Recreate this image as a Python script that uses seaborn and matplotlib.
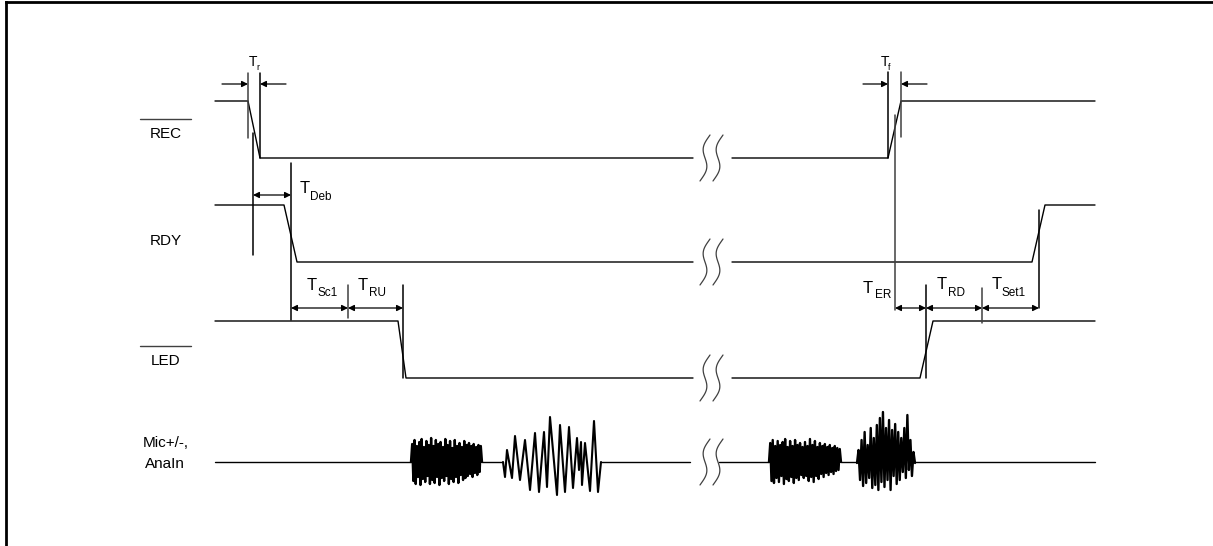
import numpy as np
import matplotlib
matplotlib.use("Agg")
import matplotlib.pyplot as plt
import seaborn as sns

sns.set_theme(style="white")
plt.rcParams["font.family"] = ["Liberation Sans", "DejaVu Sans"]

# ---------------- data ----------------
# digital signals: transition times (x) and logic levels (1 = high, 0 = low), before / after the time break
rec_t_a = [215, 248, 260, 693]
rec_lv_a = [1, 1, 0, 0]
rec_t_b = [732, 888, 901, 1095]
rec_lv_b = [0, 0, 1, 1]

rdy_t_a = [215, 284, 297, 693]
rdy_lv_a = [1, 1, 0, 0]
rdy_t_b = [732, 1032, 1045, 1095]
rdy_lv_b = [0, 0, 1, 1]

led_t_a = [215, 398, 406, 693]
led_lv_a = [1, 1, 0, 0]
led_t_b = [732, 920, 933, 1095]
led_lv_b = [0, 0, 1, 1]

# analog mic signal: quiet baseline segments and bursts (sample values, screen units)
mic_quiet_t = [[215, 411], [482, 503], [601, 690], [719, 769], [841, 857], [915, 1095]]
burst1_span = [411, 482]
burst1_v = [462, 444, 481, 440, 484, 446, 477, 442, 485, 439, 479, 447, 482, 441, 476, 445,
            484, 438, 480, 446, 483, 440, 477, 444, 485, 442, 478, 447, 481, 439, 476, 445,
            484, 441, 479, 448, 482, 440, 477, 446, 483, 443, 475, 447, 480, 441, 478, 445,
            476, 443, 474, 446, 477, 444, 473, 447, 475, 445, 472, 446, 462]
burst2_t = [503, 505, 507, 512, 515, 520, 525, 530, 535, 539, 544, 547, 550, 557, 560, 565,
            569, 573, 577, 579, 581, 582, 585, 590, 594, 598, 601]
burst2_v = [462, 477, 450, 478, 436, 480, 440, 490, 433, 492, 432, 487, 417, 495, 425, 492,
            427, 488, 438, 470, 442, 485, 443, 491, 421, 492, 462]
burst3_span = [769, 841]
burst3_v = [462, 443, 481, 440, 483, 446, 478, 441, 482, 445, 476, 442, 484, 439, 479, 447,
            481, 441, 477, 446, 483, 440, 478, 445, 480, 443, 475, 447, 478, 442, 476, 446,
            481, 439, 477, 445, 482, 441, 476, 447, 479, 443, 474, 446, 477, 444, 473, 447,
            475, 445, 472, 448, 474, 446, 471, 448, 470, 449, 462]
burst4_span = [857, 915]
burst4_v = [463, 450, 480, 440, 486, 432, 483, 445, 478, 428, 488, 438, 485, 425, 490, 418,
            482, 412, 487, 428, 480, 420, 490, 430, 476, 424, 484, 432, 480, 438, 472, 428,
            478, 415, 470, 440, 476, 452, 463]

row_labels = ["REC", "RDY", "LED"]
mic_label = ["Mic+/-,", "AnaIn"]

# timing markers: (main letter, subscript)
timing_names = [("T", "r"), ("T", "f"), ("T", "Deb"), ("T", "Sc1"), ("T", "RU"),
                ("T", "ER"), ("T", "RD"), ("T", "Set1")]

# ---------------- layout ----------------
W, H = 1213, 546
fig = plt.figure(figsize=(W / 100, H / 100), dpi=100)
ax = fig.add_axes([0, 0, 1, 1])
ax.set_xlim(0, W)
ax.set_ylim(H, 0)
ax.axis("off")

lane_low = {"REC": 158, "RDY": 262, "LED": 378}
lane_h = 57
mic_base = 462
LW = 1.0
K = "black"
G = "#404040"


def wave(t, lv, lane):
    y = [lane_low[lane] - v * lane_h for v in lv]
    sns.lineplot(x=t, y=y, sort=False, estimator=None, color=K, lw=LW, ax=ax, legend=False)


wave(rec_t_a, rec_lv_a, "REC")
wave(rec_t_b, rec_lv_b, "REC")
wave(rdy_t_a, rdy_lv_a, "RDY")
wave(rdy_t_b, rdy_lv_b, "RDY")
wave(led_t_a, led_lv_a, "LED")
wave(led_t_b, led_lv_b, "LED")

for seg in mic_quiet_t:
    sns.lineplot(x=seg, y=[mic_base, mic_base], color=K, lw=LW, ax=ax, legend=False)
for span, vals in [(burst1_span, burst1_v), (burst3_span, burst3_v), (burst4_span, burst4_v)]:
    xs = np.linspace(span[0], span[1], len(vals))
    sns.lineplot(x=xs, y=vals, sort=False, estimator=None, color=K, lw=1.7, ax=ax, legend=False)
sns.lineplot(x=burst2_t, y=burst2_v, sort=False, estimator=None, color=K, lw=1.5, ax=ax, legend=False)


# break symbols
def brk(xc, yc):
    tt = np.linspace(0, 1, 80)
    xx = xc + 5 * np.cos(np.pi * tt) - 5 * np.sin(2 * np.pi * tt)
    ax.plot(xx, yc - 23 + 46 * tt, color=G, lw=0.9)


for yc in [lane_low["REC"], lane_low["RDY"], lane_low["LED"], mic_base]:
    brk(705, yc)
    brk(718, yc)

# vertical reference lines
vlines = [(248, 73, 138, G), (260, 73, 158, K), (253, 133, 255, K), (291, 163, 320, K),
          (348, 285, 318, G), (403, 285, 378, K), (888, 72, 158, K), (901, 72, 137, G),
          (895, 115, 310, G), (926, 285, 378, K), (982, 288, 323, G), (1039, 210, 308, K)]
for x, y0, y1, c in vlines:
    ax.plot([x, x], [y0, y1], color=c, lw=1.1)


def arrow(x0, x1, y, style):
    ax.annotate("", xy=(x1, y), xytext=(x0, y),
                arrowprops=dict(arrowstyle=style, color=K, lw=0.9, mutation_scale=9,
                                shrinkA=0, shrinkB=0))


arrow(222, 248, 84, "-|>")
arrow(286, 260, 84, "-|>")
arrow(863, 888, 84, "-|>")
arrow(927, 901, 84, "-|>")
arrow(253, 291, 195, "<|-|>")
arrow(291, 348, 308, "<|-|>")
arrow(348, 403, 308, "<|-|>")
arrow(895, 926, 308, "<|-|>")
arrow(926, 982, 308, "<|-|>")
arrow(982, 1039, 308, "<|-|>")

# timing labels: (index, x of T, baseline of T, x of sub, baseline of sub, size T, size sub)
tlab = [(0, 249, 66, 256, 70, 10, 6.5), (1, 881, 66, 888, 70, 10, 6.5),
        (2, 300, 193, 310, 200, 12, 8.5), (3, 307, 290, 318, 296, 12, 8.5),
        (4, 358, 290, 369, 296, 12, 8.5), (5, 863, 293, 875, 298, 12, 8.5),
        (6, 937, 289, 948, 296, 12, 8.5), (7, 992, 289, 1002, 296, 12, 8.5)]
for i, xt, yt, xs, ys, st, ss in tlab:
    m, s = timing_names[i]
    ax.text(xt, yt, m, fontsize=st, ha="left", va="baseline", color=K)
    ax.text(xs, ys, s, fontsize=ss, ha="left", va="baseline", color=K)

# row labels
row_y = {"REC": 138, "RDY": 245, "LED": 365}
for name in row_labels:
    ax.text(165.5, row_y[name], name, fontsize=11, ha="center", va="baseline", color=K)
for name in ["REC", "LED"]:
    yo = {"REC": 119, "LED": 346}[name]
    ax.plot([140, 191], [yo, yo], color=G, lw=1.0)
ax.text(166, 447, mic_label[0], fontsize=11, ha="center", va="baseline", color=K)
ax.text(165, 468, mic_label[1], fontsize=11, ha="center", va="baseline", color=K)

# frame
ax.plot([6, 6], [H, 2], color=K, lw=2, solid_capstyle="projecting")
ax.plot([6, W], [2, 2], color=K, lw=2, solid_capstyle="projecting")

fig.savefig("out.png", dpi=100)
